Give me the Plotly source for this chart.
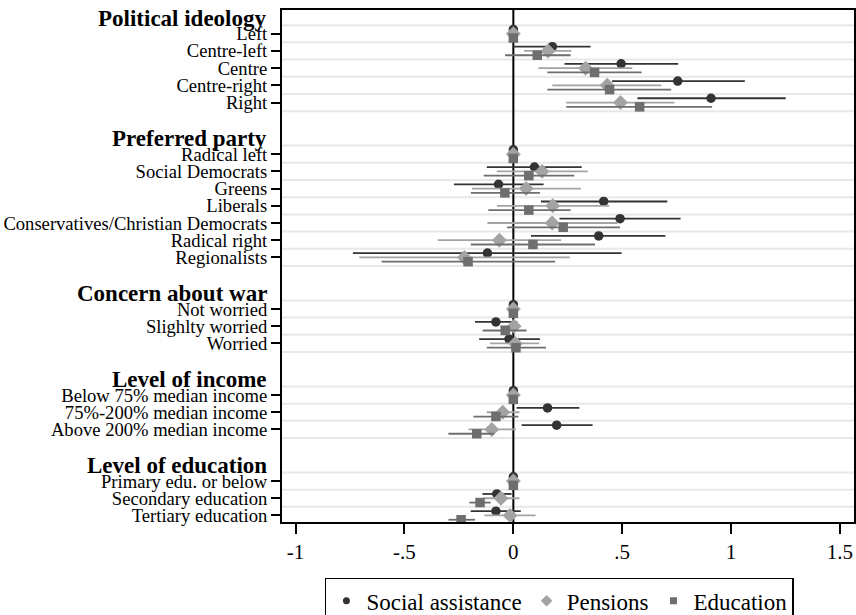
import plotly.graph_objects as go

# Groups of covariates (header, category labels)
group_headers = ["Political ideology", "Preferred party", "Concern about war",
                 "Level of income", "Level of education"]
group_labels = [
    ["Left", "Centre-left", "Centre", "Centre-right", "Right"],
    ["Radical left", "Social Democrats", "Greens", "Liberals",
     "Conservatives/Christian Democrats", "Radical right", "Regionalists"],
    ["Not worried", "Slighlty worried", "Worried"],
    ["Below 75% median income", "75%-200% median income", "Above 200% median income"],
    ["Primary edu. or below", "Secondary education", "Tertiary education"],
]

series_names = ["Social assistance", "Pensions", "Education"]

# Point estimates and 95% confidence bounds (reference categories = 0)
sa_coef = [0, 0.179, 0.495, 0.755, 0.908,
           0, 0.097, -0.068, 0.415, 0.490, 0.392, -0.119,
           0, -0.080, -0.020,
           0, 0.157, 0.199,
           0, -0.076, -0.080]
sa_lo = [0, 0.000, 0.235, 0.453, 0.570,
         0, -0.122, -0.273, 0.127, 0.212, 0.081, -0.737,
         0, -0.176, -0.157,
         0, 0.015, 0.038,
         0, -0.142, -0.196]
sa_hi = [0, 0.355, 0.757, 1.063, 1.251,
         0, 0.314, 0.139, 0.707, 0.768, 0.698, 0.497,
         0, 0.018, 0.122,
         0, 0.303, 0.364,
         0, -0.008, 0.034]

pen_coef = [0, 0.159, 0.332, 0.431, 0.492,
            0, 0.132, 0.059, 0.181, 0.178, -0.064, -0.225,
            0, 0.003, 0.009,
            0, -0.049, -0.099,
            0, -0.057, -0.015]
pen_lo = [0, 0.049, 0.115, 0.179, 0.243,
          0, -0.076, -0.190, -0.075, -0.119, -0.347, -0.708,
          0, -0.060, -0.107,
          0, -0.122, -0.206,
          0, -0.138, -0.133]
pen_hi = [0, 0.266, 0.546, 0.679, 0.740,
          0, 0.342, 0.310, 0.440, 0.478, 0.220, 0.259,
          0, 0.035, 0.119,
          0, 0.028, 0.012,
          0, 0.028, 0.102]

edu_coef = [0, 0.110, 0.373, 0.442, 0.580,
            0, 0.071, -0.039, 0.071, 0.229, 0.090, -0.208,
            0, -0.037, 0.012,
            0, -0.080, -0.168,
            0, -0.153, -0.240]
edu_lo = [0, -0.038, 0.156, 0.156, 0.243,
          0, -0.136, -0.195, -0.115, -0.029, -0.195, -0.605,
          0, -0.141, -0.122,
          0, -0.183, -0.298,
          0, -0.202, -0.298]
edu_hi = [0, 0.263, 0.589, 0.725, 0.913,
          0, 0.280, 0.122, 0.263, 0.490, 0.375, 0.192,
          0, 0.061, 0.150,
          0, 0.023, -0.089,
          0, -0.104, -0.176]

x_ticks = [-1, -0.5, 0, 0.5, 1, 1.5]
x_ticktext = ["-1", "-.5", "0", ".5", "1", "1.5"]

# ---- layout of rows: header row, category rows, blank row between groups ----
header_pos, row_pos, row_text, grid_pos = [], [], [], []
pos = -1
for g, (head, labs) in enumerate(zip(group_headers, group_labels)):
    header_pos.append(pos)
    pos += 1
    first = pos
    for lab in labs:
        row_pos.append(pos)
        row_text.append(lab)
        pos += 1
    grid_pos.extend([p - 0.5 for p in range(first, pos)] + [pos - 0.5])
    pos += 1  # blank row

SERIF = "Liberation Serif, Times New Roman, serif"
colors = ["#333333", "#a3a3a3", "#6e6e6e"]
symbols = ["circle", "diamond", "square"]
sizes = [9.5, 11.5, 9.5]
offsets = [-0.25, 0.0, 0.25]
data = [(sa_coef, sa_lo, sa_hi), (pen_coef, pen_lo, pen_hi), (edu_coef, edu_lo, edu_hi)]

fig = go.Figure()
for name, col, sym, sz, off, (c, lo, hi) in zip(series_names, colors, symbols, sizes, offsets, data):
    fig.add_trace(go.Scatter(
        x=c,
        y=[p + off for p in row_pos],
        mode="markers",
        marker=dict(symbol=sym, size=sz, color=col, line=dict(width=0)),
        error_x=dict(type="data", symmetric=False,
                     array=[h - v for h, v in zip(hi, c)],
                     arrayminus=[v - l for v, l in zip(c, lo)],
                     width=0, thickness=1.8, color=col),
        showlegend=False,
        name=name,
    ))
    # legend entry with a smaller key symbol
    fig.add_trace(go.Scatter(
        x=[None], y=[None], mode="markers", name=name,
        marker=dict(symbol=sym, size=7 if sym != "diamond" else 9, color=col),
        showlegend=True,
    ))

shapes = []
for gp in grid_pos:
    shapes.append(dict(type="line", xref="paper", x0=0, x1=1, yref="y", y0=gp, y1=gp,
                       line=dict(color="#e8e8e8", width=2), layer="below"))
shapes.append(dict(type="line", xref="x", x0=0, x1=0, yref="paper", y0=0, y1=1,
                   line=dict(color="black", width=2), layer="below"))

annotations = []
for hp, head in zip(header_pos, group_headers):
    annotations.append(dict(
        text=f"<b>{head}</b>", xref="paper", x=0, xanchor="right", xshift=-13,
        yref="y", y=hp, yanchor="middle", yshift=-2, showarrow=False,
        font=dict(family=SERIF, size=23, color="black"),
    ))

fig.update_layout(
    width=856, height=615,
    margin=dict(l=282, r=2, t=10, b=93, autoexpand=False),
    paper_bgcolor="white", plot_bgcolor="white",
    shapes=shapes, annotations=annotations,
    font=dict(family=SERIF, color="black"),
    legend=dict(
        orientation="h", x=0.485, xanchor="center", y=-0.109, yanchor="top",
        bordercolor="black", borderwidth=1.5, bgcolor="white",
        font=dict(family=SERIF, size=23, color="black"),
        itemwidth=30, tracegroupgap=0,
    ),
)
fig.update_xaxes(
    range=[-1.0625, 1.5645], tickvals=x_ticks, ticktext=x_ticktext,
    showgrid=False, zeroline=False,
    ticks="outside", ticklen=10, tickwidth=1.5, tickcolor="black",
    tickfont=dict(family=SERIF, size=21, color="black"),
    showline=True, linecolor="black", linewidth=2, mirror=True,
)
fig.update_yaxes(
    range=[28.38, -1.38], tickvals=row_pos, ticktext=row_text,
    showgrid=False, zeroline=False,
    ticks="outside", ticklen=9, tickwidth=1.5, tickcolor="black",
    tickfont=dict(family=SERIF, size=18.6, color="black"),
    showline=True, linecolor="black", linewidth=2, mirror=True,
)

fig.write_html("out.html")
